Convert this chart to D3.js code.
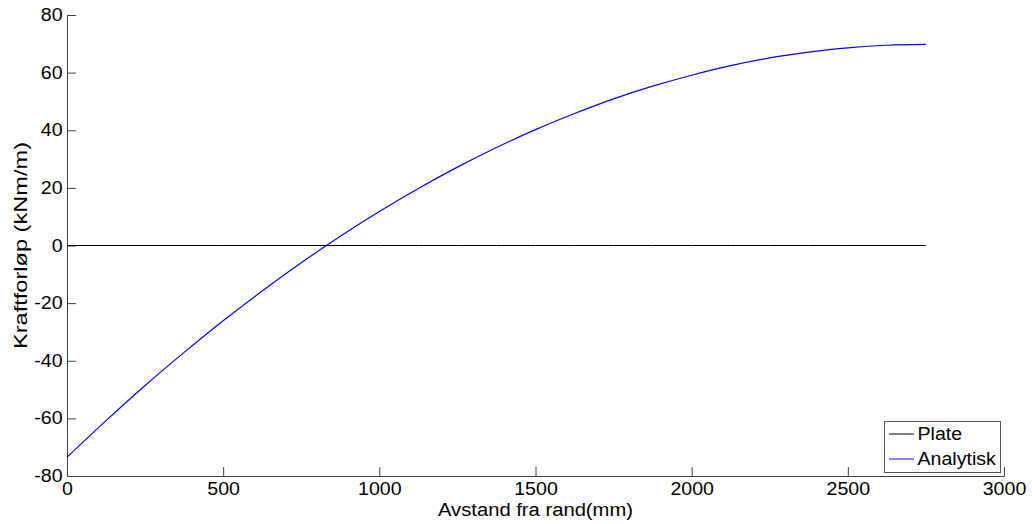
<!DOCTYPE html>
<html>
<head>
<meta charset="utf-8">
<script src="https://cdn.jsdelivr.net/npm/d3@7"></script>
<style>
  html, body { margin: 0; padding: 0; background: #fff; }
  svg { display: block; font-family: "Liberation Sans", Arial, sans-serif; }
</style>
</head>
<body>
<svg id="chart" width="1032" height="524"></svg>
<script>
// Distance from the edge (mm)
const distance = [0, 125, 250, 375, 500, 625, 750, 875, 1000, 1125, 1250, 1375,
  1500, 1625, 1750, 1875, 2000, 2125, 2250, 2375, 2500, 2625, 2750];
// Analytical moment distribution (kNm/m)
const analytisk = [-73.5, -60.8, -48.6, -37.1, -26.1, -15.8, -6.0, 3.2, 11.8, 19.8, 27.2, 34.0,
  40.2, 45.8, 50.9, 55.3, 59.1, 62.4, 65.1, 67.1, 68.6, 69.5, 69.8];
// Plate result (kNm/m)
const plate = [0, 0, 0, 0, 0, 0, 0, 0, 0, 0, 0, 0,
  0, 0, 0, 0, 0, 0, 0, 0, 0, 0, 0];

const xTicks = [0, 500, 1000, 1500, 2000, 2500, 3000];
const yTicks = [-80, -60, -40, -20, 0, 20, 40, 60, 80];
const seriesNames = ["Plate", "Analytisk"];
const seriesColors = ["#000000", "#0000ff"];

const svg = d3.select("#chart");
const plotLeft = 67, plotRight = 1004, plotTop = 15, plotBottom = 476;

const x = d3.scaleLinear().domain([0, 3000]).range([plotLeft, plotRight]);
const y = d3.scaleLinear().domain([-80, 80]).range([plotBottom, plotTop]);

const tickLen = 9;
const fontSize = 17.5;
const stretch = "scale(1.12,1)";
const fmt = d => String(d);

// X axis (ticks point inward)
const gx = svg.append("g").attr("transform", `translate(0,${plotBottom})`)
  .call(d3.axisBottom(x).tickValues(xTicks).tickFormat(fmt)
    .tickSizeInner(-tickLen).tickSizeOuter(0).tickPadding(6));
// Y axis
const gy = svg.append("g").attr("transform", `translate(${plotLeft},0)`)
  .call(d3.axisLeft(y).tickValues(yTicks).tickFormat(fmt)
    .tickSizeInner(-tickLen).tickSizeOuter(0).tickPadding(4));

[gx, gy].forEach(g => {
  g.select(".domain").attr("stroke", "#404040").attr("stroke-width", 1);
  g.selectAll(".tick line").attr("stroke", "#404040");
  g.selectAll(".tick text").attr("fill", "#000").style("font-size", fontSize + "px")
    .style("font-family", '"Liberation Sans", Arial, sans-serif')
    .attr("transform", stretch);
});
gx.selectAll(".tick text").attr("dy", "0.76em").attr("y", 6);

const line = d3.line().x(d => x(d[0])).y(d => y(d[1])).curve(d3.curveMonotoneX);

svg.append("path")
  .datum(distance.map((d, i) => [d, plate[i]]))
  .attr("fill", "none").attr("stroke", seriesColors[0]).attr("stroke-width", 1)
  .attr("d", line);

svg.append("path")
  .datum(distance.map((d, i) => [d, analytisk[i]]))
  .attr("fill", "none").attr("stroke", seriesColors[1]).attr("stroke-width", 1.2)
  .attr("d", line);

// Axis titles
svg.append("text")
  .attr("x", (plotLeft + plotRight) / 2).attr("y", 516)
  .attr("text-anchor", "middle").style("font-size", "18px")
  .attr("textLength", 195).attr("lengthAdjust", "spacingAndGlyphs")
  .text("Avstand fra rand(mm)");

svg.append("text")
  .attr("transform", `translate(27,${(plotTop + plotBottom) / 2}) rotate(-90)`)
  .attr("text-anchor", "middle").style("font-size", "18px")
  .attr("textLength", 207).attr("lengthAdjust", "spacingAndGlyphs")
  .text("Kraftforløp (kNm/m)");

// Legend
const lg = svg.append("g");
lg.append("rect")
  .attr("x", 884.5).attr("y", 421.5).attr("width", 116).attr("height", 51)
  .attr("fill", "#fff").attr("stroke", "#555").attr("stroke-width", 1);
seriesNames.forEach((name, i) => {
  const cy = 434 + i * 25;
  lg.append("line")
    .attr("x1", 889).attr("x2", 914).attr("y1", cy).attr("y2", cy)
    .attr("stroke", seriesColors[i]).attr("stroke-width", 1);
  lg.append("text")
    .attr("transform", `translate(917.5,${cy}) ${stretch}`)
    .attr("dy", "0.35em")
    .style("font-size", fontSize + "px")
    .text(name);
});
</script>
</body>
</html>
